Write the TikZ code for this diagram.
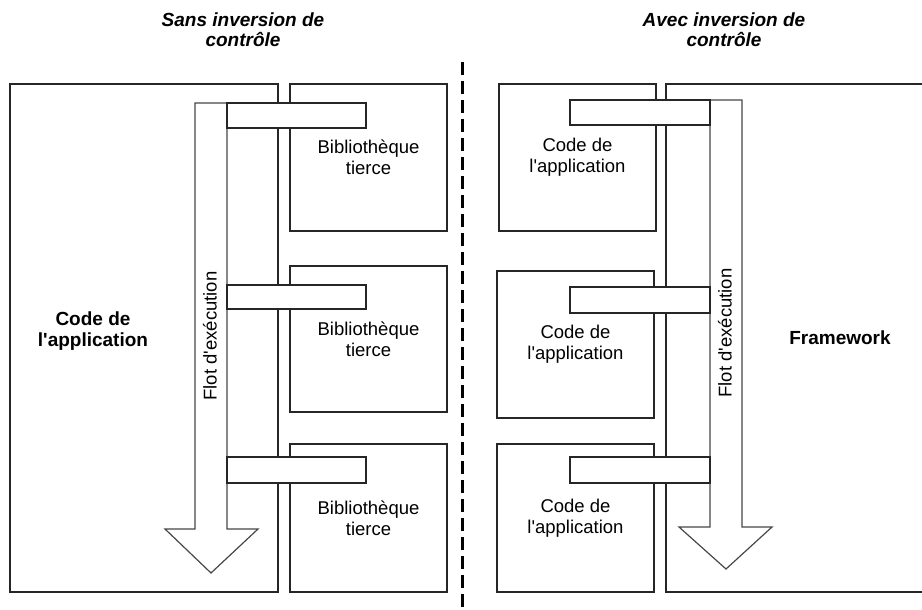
\documentclass[tikz,border=0pt]{standalone}
\usepackage{fontspec}
\setmainfont{Liberation Sans}
\newcommand{\apos}{\textquotesingle}
\begin{document}
\begin{tikzpicture}[x=1pt,y=-1pt,
  panel/.style={draw=black!85, line width=1.2pt, fill=white, inner sep=0pt, outer sep=0pt,
    anchor=north west, align=center, font=\fontsize{18.5}{21}\selectfont},
  bar/.style={draw=black!85, line width=1.2pt, fill=white, inner sep=0pt, outer sep=0pt, anchor=north west},
  flow/.style={draw=black!72, line width=1.2pt, fill=white, line join=miter},
  flowtext/.style={rotate=90, font=\fontsize{18.5}{21}\selectfont, inner sep=0pt},
  label/.style={align=center, inner sep=0pt, font=\fontsize{18.5}{21}\selectfont},
  boldlabel/.style={align=center, inner sep=0pt, font=\fontsize{19}{21}\selectfont\bfseries},
  heading/.style={align=center, inner sep=0pt, font=\fontsize{19}{20}\selectfont\bfseries\itshape},
  divider/.style={line width=3pt, dash pattern=on 13pt off 6pt}]
\useasboundingbox (0,0) rectangle (922,610);

% ---- left half: without inversion of control ----
\node[heading] (tleft) at (243,30) {Sans inversion de\\contrôle};

\node[panel, minimum width=268pt, minimum height=508pt] (app) at (10,84) {};
\node[boldlabel] (applabel) at (93,331) {Code de\\l\apos application};

\node[panel, minimum width=157pt, minimum height=147pt] (lib1) at (290,84) {Bibliothèque\\tierce};
\node[panel, minimum width=157pt, minimum height=146pt] (lib2) at (290,266) {Bibliothèque\\tierce};
\node[panel, minimum width=157pt, minimum height=148pt] (lib3) at (290,444) {Bibliothèque\\tierce};

% execution flow arrow
\draw[flow] (195,103) -- (227,103) -- (227,529) -- (258,529) -- (211,573)
  -- (165,529) -- (195,529) -- cycle;
\node[flowtext] (flowl) at (210,336) {Flot d\apos exécution};

% calls from the application into the libraries
\node[bar, minimum width=139pt, minimum height=25pt] (callL1) at (227,103) {};
\node[bar, minimum width=139pt, minimum height=24pt] (callL2) at (227,285) {};
\node[bar, minimum width=139pt, minimum height=26pt] (callL3) at (227,457) {};

% ---- separator ----
\coordinate (sepTop) at (462.5,62);
\coordinate (sepBot) at (462.5,612);
\draw[divider] (sepTop) -- (sepBot);

% ---- right half: with inversion of control ----
\node[heading] (tright) at (724,30) {Avec inversion de\\contrôle};

\node[panel, minimum width=157pt, minimum height=147pt] (code1) at (499,84) {Code de\\l\apos application};
\node[panel, minimum width=157pt, minimum height=147pt] (code2) at (497,271) {Code de\\l\apos application};
\node[panel, minimum width=157pt, minimum height=148pt] (code3) at (497,444) {Code de\\l\apos application};

% framework area, running off the right edge
\draw[draw=black!85, line width=1.2pt] (924,84) -- (666,84) -- (666,592) -- (924,592);
\node[boldlabel] (fw) at (840,338) {Framework};

% execution flow arrow
\draw[flow] (710,100) -- (742,100) -- (742,527) -- (772,527) -- (726,569)
  -- (679,527) -- (710,527) -- cycle;
\node[flowtext] (flowr) at (725,333) {Flot d\apos exécution};

% callbacks from the framework into the application code
\node[bar, minimum width=140pt, minimum height=25pt] (callR1) at (570,100) {};
\node[bar, minimum width=140pt, minimum height=26pt] (callR2) at (570,287) {};
\node[bar, minimum width=140pt, minimum height=26pt] (callR3) at (570,457) {};
\end{tikzpicture}
\end{document}
